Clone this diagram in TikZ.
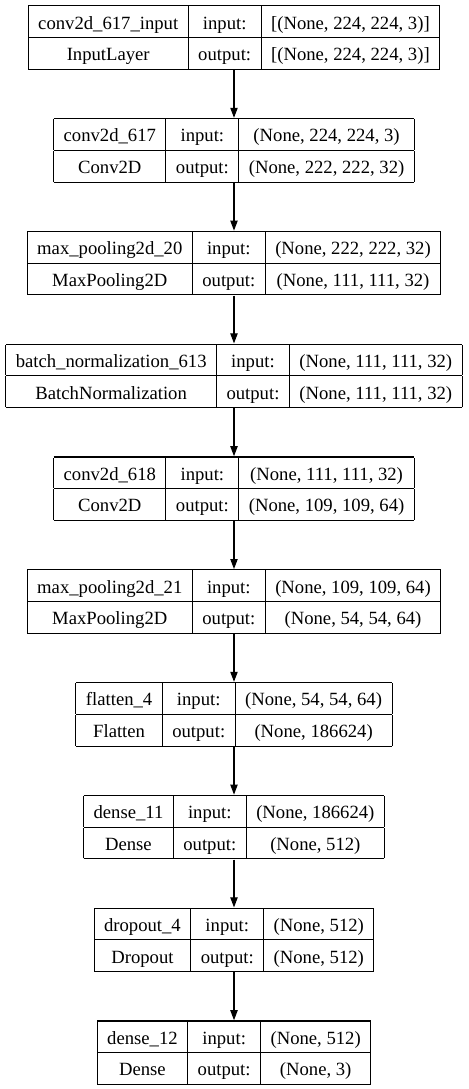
\documentclass[tikz,border=0pt]{standalone}
\usepackage{fontspec}
\setmainfont{Liberation Serif}
\usetikzlibrary{arrows.meta}
\newcommand{\rowstrut}{\rule[-6pt]{0pt}{23pt}}

\begin{document}
\begin{tikzpicture}[x=0.75pt,y=-0.75pt]
  \useasboundingbox (0,0) rectangle (468,1089);
  \tikzstyle{layer}=[inner sep=0pt, anchor=north, font=\fontsize{14}{16}\selectfont]
  \tikzstyle{flow}=[line width=0.8pt, -{Triangle[length=7.5pt,width=5.5pt]}]
  \setlength{\tabcolsep}{7.5pt}
  \setlength{\arrayrulewidth}{0.8pt}
  \foreach \n/\c/\i/\o [count=\k from 0] in {
    conv2d\_617\_input/InputLayer/{[(None, 224, 224, 3)]}/{[(None, 224, 224, 3)]},
    conv2d\_617/Conv2D/{(None, 224, 224, 3)}/{(None, 222, 222, 32)},
    max\_pooling2d\_20/MaxPooling2D/{(None, 222, 222, 32)}/{(None, 111, 111, 32)},
    batch\_normalization\_613/BatchNormalization/{(None, 111, 111, 32)}/{(None, 111, 111, 32)},
    conv2d\_618/Conv2D/{(None, 111, 111, 32)}/{(None, 109, 109, 64)},
    max\_pooling2d\_21/MaxPooling2D/{(None, 109, 109, 64)}/{(None, 54, 54, 64)},
    flatten\_4/Flatten/{(None, 54, 54, 64)}/{(None, 186624)},
    dense\_11/Dense/{(None, 186624)}/{(None, 512)},
    dropout\_4/Dropout/{(None, 512)}/{(None, 512)},
    dense\_12/Dense/{(None, 512)}/{(None, 3)}}{
    \node[layer] (l\k) at (234,{5+112.8*\k}) {\begin{tabular}{|c|c|c|}
      \hline \rowstrut\n & input: & \i \\
      \hline \rowstrut\c & output: & \o \\
      \hline
    \end{tabular}};
  }
  % arrows between the layers
  \foreach \k in {1,...,9}{
    \pgfmathtruncatemacro{\j}{\k-1}
    \draw[flow] (l\j.south) -- (l\k.north);
  }
\end{tikzpicture}
\end{document}
